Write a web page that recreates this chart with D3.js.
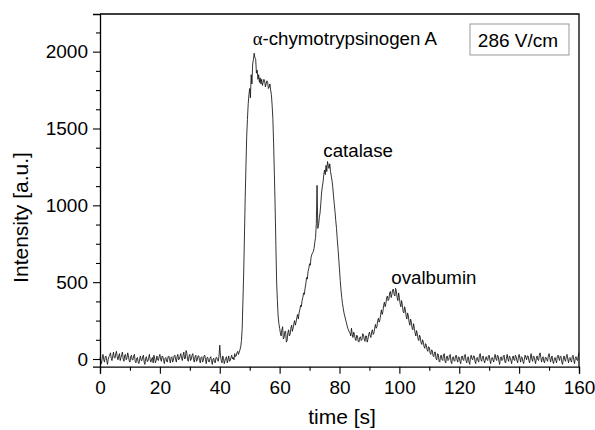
<!DOCTYPE html>
<html>
<head>
<meta charset="utf-8">
<script src="https://cdn.jsdelivr.net/npm/d3@7"></script>
<style>
  body { margin: 0; background: #fff; }
  svg text { font-family: "Liberation Sans", Arial, sans-serif; fill: #000; }
</style>
</head>
<body>
<div id="chart"></div>
<script>
// sampling grid of the trace (s)
const timeStep = 0.25;
// intensity [a.u.], one value every 0.25 s from 0 to 160 s
const intensity = [
  10,-15,-30,5,30,-5,-20,15,20,-10,-35,0,15,25,40,5,-10,20,45,10,5,35,50,15,-5,20,35,-10,10,30,45,0,-15,25,30,-5,5,40,20,-10,
  -20,15,25,-5,-5,20,30,-15,-25,5,10,-20,-30,0,20,-10,-10,15,25,-20,-35,5,15,-15,-15,10,30,-5,-20,0,10,-25,25,5,-25,-10,20,-5,-10,15,
  30,0,-15,20,15,-10,-30,5,10,-15,-20,15,20,-5,-25,10,15,-20,-10,20,25,0,-20,15,30,-5,0,20,35,5,-10,25,45,0,5,55,40,-5,-15,20,
  30,-10,0,25,35,-5,-20,15,25,-15,-5,20,20,-10,-25,10,15,-20,-10,20,25,-5,-30,10,10,-15,-20,5,15,-10,-35,0,5,-20,-25,10,10,-5,-15,20,
  90,20,-10,-25,20,5,-30,-10,5,15,-25,-5,20,-15,-10,10,25,0,10,-5,35,15,20,40,50,30,45,60,80,120,200,380,560,800,1050,1250,1450,1560,1660,1720,
  1760,1700,1850,1790,1920,1950,1990,1960,1950,1860,1880,1820,1850,1800,1830,1790,1820,1780,1800,1820,1810,1770,1790,1810,1800,1760,1770,1790,1750,1720,1650,1560,1400,1200,990,740,500,380,280,230,
  200,170,150,190,210,130,140,180,180,110,120,170,190,150,160,200,220,180,200,230,250,220,240,270,290,260,300,320,350,340,380,400,430,420,460,490,530,520,570,590,
  620,610,660,680,690,700,720,760,790,880,1130,850,870,920,950,1010,1080,1120,1150,1200,1230,1200,1260,1220,1285,1260,1240,1270,1220,1190,1160,1120,1060,1010,960,900,850,780,720,650,
  580,510,450,400,360,330,300,280,260,240,220,200,190,175,170,150,200,160,140,175,160,130,120,155,150,115,110,140,145,120,125,165,160,130,115,150,150,110,130,160,
  175,150,140,180,190,160,170,200,225,200,210,250,265,240,255,290,320,290,310,350,370,340,360,400,410,380,390,430,440,400,420,450,455,420,410,460,440,400,380,430,
  400,360,340,380,350,310,300,340,320,280,260,300,280,240,220,260,240,200,190,230,200,170,150,185,165,130,120,155,140,105,95,125,110,80,70,100,90,60,50,80,
  75,40,30,60,55,20,15,45,45,0,-5,35,30,-15,-20,20,25,-5,-10,30,35,-15,-25,15,20,-10,-5,25,30,-20,-30,10,15,-10,-15,20,25,-5,-20,15,
  10,-15,-30,15,20,-5,-10,25,30,-10,-25,5,15,-20,-35,10,25,0,-5,20,20,-15,-30,5,10,-10,-20,25,35,-5,-15,15,20,-10,-25,0,15,-5,-10,20,
  25,-10,-30,5,10,-5,-20,15,30,0,-10,25,20,-15,-35,10,15,-10,-5,20,25,-20,-25,5,30,0,-15,20,10,-10,-30,5,20,-5,-10,25,15,-10,-25,10,
  30,5,-20,15,10,-15,-30,0,25,10,-5,20,20,-10,-25,5,35,0,-15,20,15,-10,-30,5,20,-5,-10,25,40,10,-20,5,15,-15,-25,10,10,-5,-15,20,
  35,10,-20,5,20,-15,-30,0,10,-10,-25,15,25,5,-10,20,15,-20,-35,0,20,-5,-15,15,30,0,-25,5,10,-10,-20,15,25,-5,-30,5,15,-5,-10,20,
  40
];

const xTicks = [0, 20, 40, 60, 80, 100, 120, 140, 160];
const xMinorTicks = [10, 30, 50, 70, 90, 110, 130, 150];
const yTicks = [0, 500, 1000, 1500, 2000];
const yMinorTicks = [125, 250, 375, 625, 750, 875, 1125, 1250, 1375, 1625, 1750, 1875, 2125];

// peak labels: text, time, intensity at baseline
const peakNames = ["-chymotrypsinogen A", "catalase", "ovalbumin"];
const peakTimes = [51.0, 74.6, 97.3];
const peakLevels = [2044, 1317, 486];
const fieldLabel = "286 V/cm";

const W = 595, H = 430;
const margin = { top: 14, right: 16, bottom: 63.3, left: 100 };

const data = intensity.map((v, i) => ({ t: i * timeStep, v: v }));

const svg = d3.select("#chart").append("svg")
    .attr("width", W)
    .attr("height", H);

const x = d3.scaleLinear().domain([0, 160]).range([margin.left, W - margin.right]);
const y = d3.scaleLinear().domain([-50, 2245]).range([H - margin.bottom, margin.top]);

// trace
const line = d3.line().x(d => x(d.t)).y(d => y(d.v));
svg.append("path")
    .datum(data)
    .attr("fill", "none")
    .attr("stroke", "#111")
    .attr("stroke-width", 0.85)
    .attr("stroke-linejoin", "round")
    .attr("d", line);

// axes
svg.append("g")
    .attr("transform", `translate(0,${H - margin.bottom})`)
    .call(d3.axisBottom(x).tickValues(xTicks).tickSize(7).tickPadding(7).tickFormat(d3.format("d")));
svg.append("g")
    .attr("transform", `translate(0,${H - margin.bottom})`)
    .call(d3.axisBottom(x).tickValues(xMinorTicks).tickSize(4).tickFormat(""))
    .call(g => g.select(".domain").remove());

svg.append("g")
    .attr("transform", `translate(${margin.left},0)`)
    .call(d3.axisLeft(y).tickValues(yTicks).tickSize(7).tickPadding(5).tickFormat(d3.format("d")));
svg.append("g")
    .attr("transform", `translate(${margin.left},0)`)
    .call(d3.axisLeft(y).tickValues(yMinorTicks).tickSize(4).tickFormat(""))
    .call(g => g.select(".domain").remove());

svg.selectAll(".domain").attr("stroke", "#000").attr("stroke-width", 1.3);
svg.selectAll(".tick line").attr("stroke", "#000").attr("stroke-width", 1.1);
svg.selectAll(".tick text")
    .style("font-family", '"Liberation Sans", Arial, sans-serif')
    .style("font-size", "19px")
    .attr("fill", "#000");

// frame (top and right)
svg.append("path")
    .attr("d", `M${x(0)},${y(2245)}H${x(160)}V${y(-50)}`)
    .attr("fill", "none")
    .attr("stroke", "#000")
    .attr("stroke-width", 1.3);

// axis titles
svg.append("text")
    .attr("x", 342)
    .attr("y", 424)
    .attr("text-anchor", "middle")
    .style("font-size", "21px")
    .text("time [s]");

svg.append("text")
    .attr("transform", "translate(28,217.5) rotate(-90)")
    .attr("text-anchor", "middle")
    .style("font-size", "21px")
    .text("Intensity [a.u.]");

// peak annotations
peakNames.forEach((name, i) => {
    const t = svg.append("text")
        .attr("x", x(peakTimes[i]))
        .attr("y", y(peakLevels[i]))
        .style("font-size", "18.7px");
    if (i === 0) {
        t.append("tspan").style("font-family", '"Liberation Serif", "Times New Roman", serif').text("α");
    }
    t.append("tspan").text(name);
});

// field strength box
svg.append("rect")
    .attr("x", 470)
    .attr("y", 24)
    .attr("width", 99)
    .attr("height", 31)
    .attr("fill", "#fff")
    .attr("stroke", "#999")
    .attr("stroke-width", 1);
svg.append("text")
    .attr("x", 518)
    .attr("y", 46.5)
    .attr("text-anchor", "middle")
    .style("font-size", "19px")
    .text(fieldLabel);
</script>
</body>
</html>
